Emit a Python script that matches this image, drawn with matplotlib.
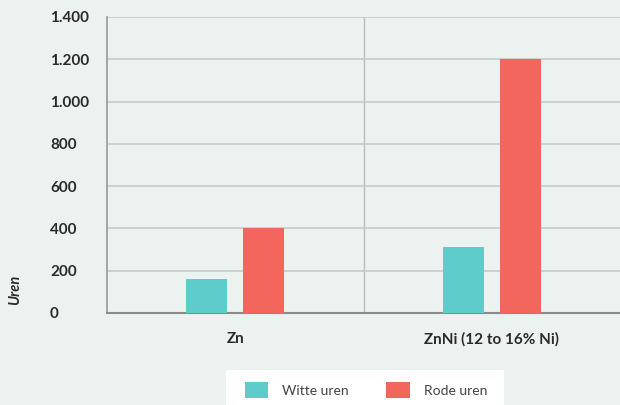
import matplotlib.pyplot as plt
import matplotlib.patches as patches
import numpy as np

plt.rcParams['font.family'] = ['Lato', 'DejaVu Sans']

# data
categories = ["Zn", "ZnNi (12 to 16% Ni)"]
witte_uren = [160, 310]
rode_uren = [400, 1200]
series_names = ["Witte uren", "Rode uren"]
y_ticks = [0, 200, 400, 600, 800, 1000, 1200, 1400]
y_tick_labels = ["0", "200", "400", "600", "800", "1.000", "1.200", "1.400"]

bg = "#ecf2f0"
teal = "#5ecccb"
red = "#f2665d"

fig = plt.figure(figsize=(6.2, 4.05), dpi=100, facecolor=bg)
ax = fig.add_axes([107 / 620, 1 - 313 / 405, 513 / 620, 296 / 405])
ax.set_facecolor(bg)

x = np.arange(len(categories))
w = 0.16
off = 0.111
b1 = ax.bar(x - off, witte_uren, w, color=teal, label=series_names[0], zorder=3)
b2 = ax.bar(x + off, rode_uren, w, color=red, label=series_names[1], zorder=3)

ax.set_xlim(-0.5, len(categories) - 0.5)
ax.set_ylim(0, 1400)
ax.set_yticks(y_ticks)
ax.set_yticklabels(y_tick_labels, fontsize=11, fontweight='bold', color="#2b2b2b")
ax.set_xticks(x)
ax.set_xticklabels(categories, fontsize=11, fontweight='bold', color="#2b2b2b")
ax.tick_params(axis='both', length=0)
ax.tick_params(axis='y', pad=41)
ax.tick_params(axis='x', pad=14)
for lbl in ax.get_yticklabels():
    lbl.set_horizontalalignment('left')

ax.grid(axis='y', color="#c8c8c8", linewidth=1.2, zorder=0)
for sep in np.arange(0.5, len(categories) - 0.5):
    ax.axvline(sep, color="#bdbdbd", linewidth=1.0, zorder=1)

for s in ['top', 'right']:
    ax.spines[s].set_visible(False)
ax.spines['left'].set_color("#999999")
ax.spines['bottom'].set_color("#8a8a8a")
ax.spines['left'].set_linewidth(1.2)
ax.spines['bottom'].set_linewidth(1.5)

fig.text(15 / 620, 1 - 290 / 405, "Uren", rotation=90, ha='center', va='center',
         fontsize=10.5, fontweight='bold', fontstyle='italic', color="#2b2b2b")

# white legend panel
fig.add_artist(patches.Rectangle((226 / 620, 0), 278 / 620, 35 / 405,
                                 transform=fig.transFigure, facecolor='white',
                                 edgecolor='none', zorder=0))

leg = fig.legend(handles=[b1, b2], loc='center', bbox_to_anchor=(366 / 620, 1 - 390 / 405),
                 ncol=2, frameon=False, fontsize=10,
                 handlelength=1.7, handleheight=1.4, handletextpad=1.0,
                 columnspacing=2.7, borderpad=0, borderaxespad=0)
for t in leg.get_texts():
    t.set_color("#444444")

fig.savefig("out.png", dpi=100, facecolor=bg)
